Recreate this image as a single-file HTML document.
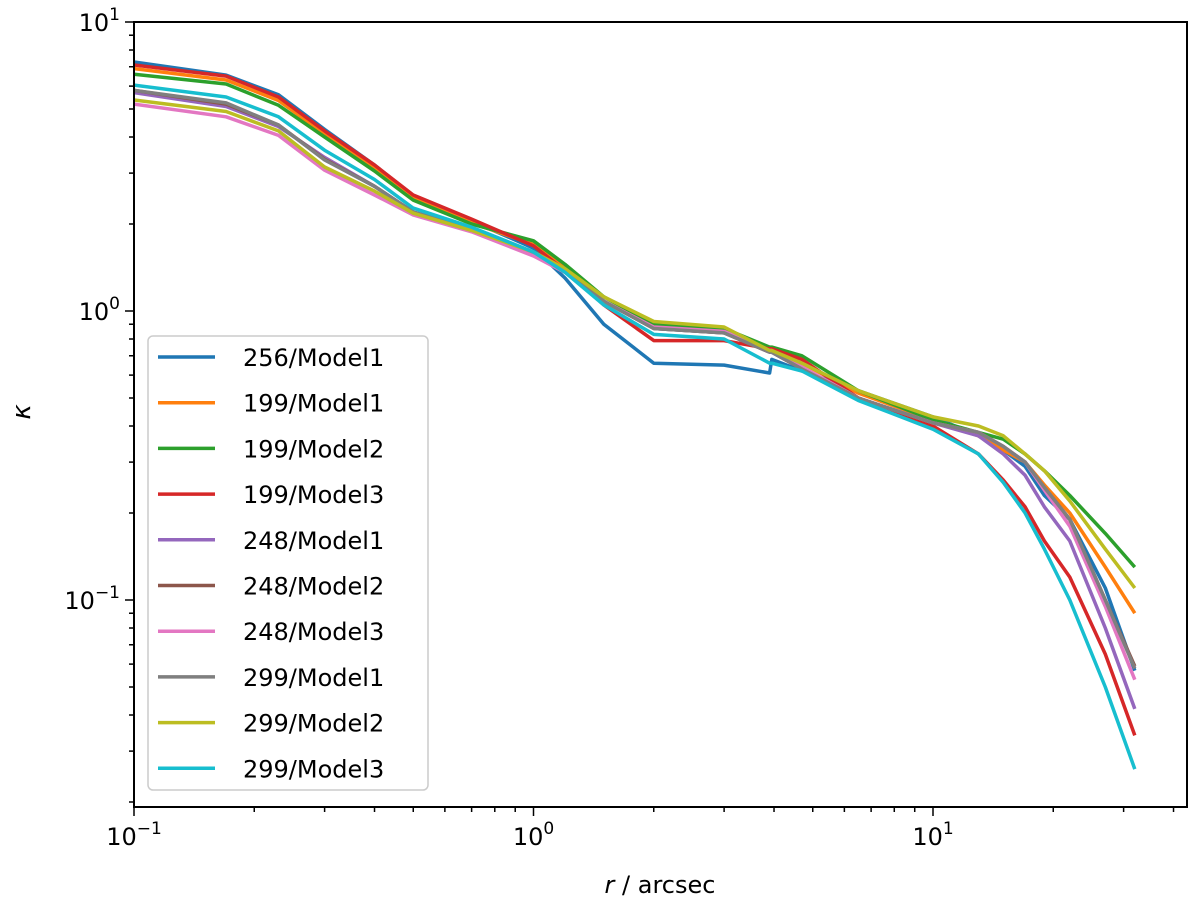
<!DOCTYPE html>
<html><head><meta charset="utf-8"><style>
body{margin:0;background:#fff;}
svg{display:block;font-family:"DejaVu Sans","Liberation Sans",sans-serif;}
</style></head><body>
<svg id="chart" width="1200" height="902"></svg>
<script>
const radii=[0.1,0.17,0.23,0.3,0.4,0.5,0.7,1,1.2,1.5,2,3,3.9,3.95,4.7,6.5,10,13,15,17,19,22,27,32];
const seriesNames=["256/Model1","199/Model1","199/Model2","199/Model3","248/Model1","248/Model2","248/Model3","299/Model1","299/Model2","299/Model3"];
const colors=["#1f77b4","#ff7f0e","#2ca02c","#d62728","#9467bd","#8c564b","#e377c2","#7f7f7f","#bcbd22","#17becf"];
const k256m1=[7.27,6.55,5.6,4.25,3.2,2.5,2.05,1.65,1.3,0.9,0.66,0.65,0.61,0.68,0.62,0.53,0.43,0.37,0.33,0.29,0.23,0.19,0.11,0.057];
const k199m1=[6.9,6.3,5.35,4.1,3.12,2.45,2.02,1.7,1.42,1.08,0.88,0.85,0.73,0.73,0.66,0.52,0.42,0.37,0.33,0.3,0.25,0.2,0.13,0.09];
const k199m2=[6.6,6.1,5.15,4.0,3.05,2.42,2.0,1.75,1.45,1.12,0.9,0.87,0.75,0.75,0.7,0.53,0.42,0.38,0.36,0.32,0.28,0.23,0.17,0.13];
const k199m3=[7.1,6.5,5.5,4.2,3.2,2.52,2.08,1.68,1.38,1.05,0.79,0.79,0.74,0.74,0.68,0.5,0.4,0.32,0.26,0.21,0.16,0.12,0.065,0.034];
const k248m1=[5.7,5.1,4.35,3.4,2.7,2.2,1.92,1.58,1.38,1.08,0.87,0.84,0.72,0.72,0.63,0.5,0.41,0.37,0.32,0.27,0.21,0.16,0.08,0.042];
const k248m2=[5.8,5.2,4.4,3.35,2.7,2.2,1.93,1.6,1.38,1.08,0.87,0.84,0.72,0.72,0.63,0.5,0.41,0.38,0.34,0.3,0.245,0.19,0.1,0.059];
const k248m3=[5.2,4.7,4.05,3.07,2.52,2.15,1.88,1.55,1.36,1.08,0.88,0.85,0.73,0.73,0.64,0.5,0.41,0.38,0.34,0.3,0.24,0.18,0.095,0.053];
const k299m1=[5.8,5.25,4.4,3.33,2.7,2.2,1.93,1.6,1.38,1.08,0.87,0.84,0.72,0.72,0.63,0.5,0.41,0.38,0.34,0.3,0.245,0.19,0.1,0.058];
const k299m2=[5.37,4.9,4.2,3.15,2.6,2.18,1.9,1.6,1.4,1.12,0.92,0.88,0.73,0.73,0.66,0.53,0.43,0.4,0.37,0.32,0.28,0.22,0.15,0.11];
const k299m3=[6.05,5.5,4.7,3.6,2.85,2.27,1.95,1.6,1.36,1.05,0.83,0.8,0.66,0.66,0.62,0.49,0.39,0.32,0.255,0.2,0.15,0.1,0.05,0.026];
const allSeries=[k256m1,k199m1,k199m2,k199m3,k248m1,k248m2,k248m3,k299m1,k299m2,k299m3];
const xMajor=[-1,0,1];
const yMajor=[-1,0,1];

const L=134,R=1187,T=22,B=807;
const xDec=399.5, yDec=289;
function xs(r){return 134+(Math.log10(r)+1)*xDec;}
function ys(k){return 22+(1-Math.log10(k))*yDec;}
const NS="http://www.w3.org/2000/svg";
const svg=document.getElementById('chart');
function mk(tag,attrs,parent){const e=document.createElementNS(NS,tag);for(const a in attrs)e.setAttribute(a,attrs[a]);(parent||svg).appendChild(e);return e;}

const clip=mk('clipPath',{id:'cp'});mk('rect',{x:L,y:T,width:R-L,height:B-T},clip);
const g=mk('g',{'clip-path':'url(#cp)'});
allSeries.forEach((s,i)=>{
  const d=s.map((v,j)=>(j?'L':'M')+xs(radii[j]).toFixed(1)+','+ys(v).toFixed(1)).join(' ');
  const p=mk('path',{d:d,fill:'none',stroke:colors[i],'stroke-width':3.5,'stroke-linejoin':'round'},g);
  
  
});

const frame=mk('rect',{x:L,y:T,width:R-L,height:B-T,fill:'none',stroke:'#000','stroke-width':2});



for(let e=-1;e<=1;e++){for(let m=1;m<10;m++){const x=xs(m*Math.pow(10,e));if(x<L-1||x>R+1)continue;
  mk('line',{x1:x,x2:x,y1:B,y2:B+(m===1?9:5),stroke:'#000','stroke-width':1.5});}}
xMajor.forEach(e=>{const t=mk('text',{x:xs(Math.pow(10,e)),y:B+38,'font-size':24,'text-anchor':'middle'});
  
  
  t.innerHTML='10<tspan dy="-11" font-size="17">'+(e<0?'\u2212'+(-e):e)+'</tspan>';});
for(let e=-2;e<=0;e++){for(let m=1;m<10;m++){const v=m*Math.pow(10,e);const y=ys(v);if(y<T-1||y>B+1)continue;
  mk('line',{x1:L,x2:L-(m===1?9:5),y1:y,y2:y,stroke:'#000','stroke-width':1.5});}}
mk('line',{x1:L,x2:L-9,y1:ys(10),y2:ys(10),stroke:'#000','stroke-width':1.5});
yMajor.forEach(e=>{const t=mk('text',{x:L-14,y:ys(Math.pow(10,e))+9,'font-size':24,'text-anchor':'end'});
  
  
  t.innerHTML='10<tspan dy="-11" font-size="17">'+(e<0?'\u2212'+(-e):e)+'</tspan>';});

const xt=mk('text',{x:660,y:893,'font-size':24,'text-anchor':'middle'});


xt.innerHTML='<tspan font-style="italic">r</tspan> / arcsec';
const yt=mk('text',{x:30,y:412,'font-size':26,'text-anchor':'middle','font-style':'italic',transform:'rotate(-90 30 412)'});


yt.textContent='\u03ba';

const lg=mk('g',{});


mk('rect',{x:148,y:336,width:280,height:454,rx:5,fill:'#fff','fill-opacity':0.8,stroke:'#ccc','stroke-width':1.5},lg);
seriesNames.forEach((n,i)=>{
  const y=357+i*45.7;
  const e=mk('g',{},lg);
  
  
  mk('line',{x1:158,x2:215,y1:y,y2:y,stroke:colors[i],'stroke-width':3.5},e);
  const t=mk('text',{x:243,y:y+9,'font-size':24},e);t.textContent=n;
});
</script>
</body></html>
